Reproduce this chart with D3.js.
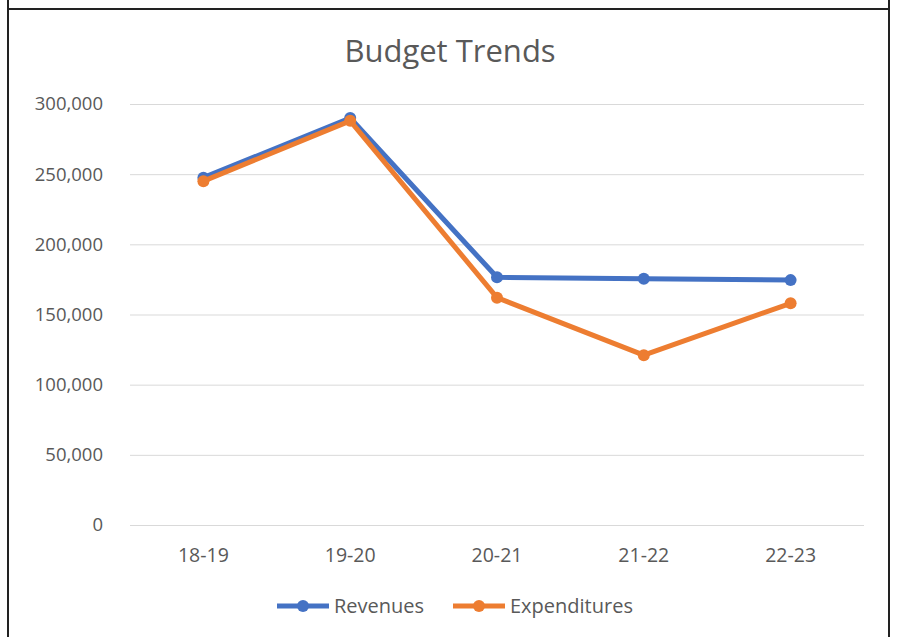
<!DOCTYPE html>
<html><head><meta charset="utf-8">
<script src="https://cdn.jsdelivr.net/npm/d3@7"></script>
<style>
html,body{margin:0;padding:0;background:#fff;}
svg{display:block;}
text{font-family:"Open Sans","Liberation Sans",sans-serif;fill:#595959;}
</style></head>
<body>
<script>
const categories = ["18-19","19-20","20-21","21-22","22-23"];
const revenues = [247500, 290000, 176500, 175500, 174500];
const expenditures = [245000, 288000, 162000, 121000, 158000];
const yTicks = [0,50000,100000,150000,200000,250000,300000];
const seriesNames = ["Revenues","Expenditures"];
const seriesColors = ["#4472C4","#ED7D31"];
const title = "Budget Trends";

const W = 901, H = 637;
const svg = d3.select("body").append("svg").attr("width", W).attr("height", H);

// frame
svg.append("line").attr("x1",8).attr("x2",8).attr("y1",0).attr("y2",H).attr("stroke","#222").attr("stroke-width",2);
svg.append("line").attr("x1",889).attr("x2",889).attr("y1",0).attr("y2",H).attr("stroke","#222").attr("stroke-width",2);
svg.append("line").attr("x1",8).attr("x2",889).attr("y1",9).attr("y2",9).attr("stroke","#222").attr("stroke-width",2);

const x = d3.scaleBand().domain(categories).range([130, 864]);
const y = d3.scaleLinear().domain([0, 300000]).range([525, 104]);

svg.append("text").attr("x", 450).attr("y", 62).attr("text-anchor","middle")
  .style("font-size","31px").text(title);

// gridlines + y labels
const yAxis = d3.axisLeft(y).tickValues(yTicks).tickSize(-(864-130)).tickPadding(27)
  .tickFormat(d3.format(","));
const gy = svg.append("g").attr("transform","translate(130,0)").call(yAxis);
gy.select(".domain").remove();
gy.selectAll(".tick line").attr("stroke","#d9d9d9").attr("stroke-width",1);
gy.selectAll(".tick text").style("font-size","18.5px").attr("fill","#595959").attr("font-family",null);

const xAxis = d3.axisBottom(x).tickSize(0).tickPadding(23);
const gx = svg.append("g").attr("transform","translate(0,525)").call(xAxis);
gx.select(".domain").remove();
gx.selectAll(".tick text").style("font-size","19.5px").attr("fill","#595959").attr("font-family",null);

const data = [revenues, expenditures];
const line = d3.line().x((d,i)=>x(categories[i]) + x.bandwidth()/2).y(d=>y(d));
data.forEach((vals, si) => {
  const g = svg.append("g");
  g.append("path").datum(vals).attr("d", line).attr("fill","none")
    .attr("stroke", seriesColors[si]).attr("stroke-width",5).attr("stroke-linejoin","round");
  g.selectAll("circle").data(vals).join("circle")
    .attr("cx",(d,i)=>x(categories[i]) + x.bandwidth()/2).attr("cy",d=>y(d)).attr("r",6)
    .attr("fill", seriesColors[si]);
});

// legend
const legX = [277, 453];
seriesNames.forEach((n, i) => {
  const g = svg.append("g").attr("transform",`translate(${legX[i]},606)`);
  g.append("line").attr("x1",0).attr("x2",52).attr("y1",0).attr("y2",0)
    .attr("stroke",seriesColors[i]).attr("stroke-width",5);
  g.append("circle").attr("cx",26).attr("cy",0).attr("r",6).attr("fill",seriesColors[i]);
  g.append("text").attr("x",57).attr("y",7).style("font-size","20px").text(n);
});
</script>
</body></html>
